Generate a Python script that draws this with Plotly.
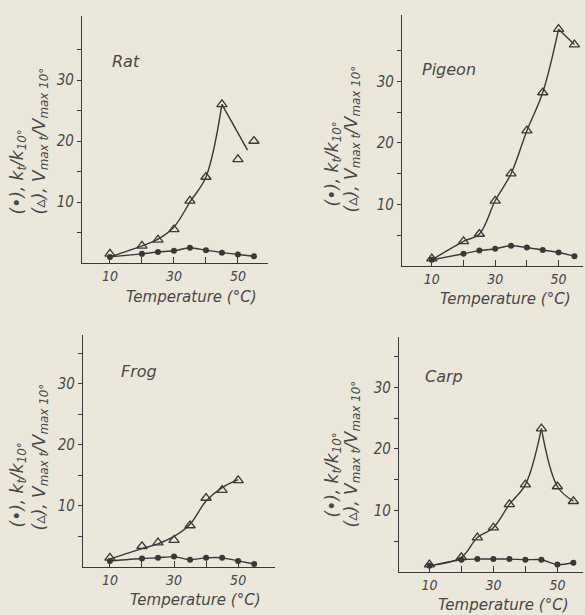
import plotly.graph_objects as go

# ---------------- data ----------------
temps = [10, 20, 25, 30, 35, 40, 45, 50, 55]

rat_k = [1.0, 1.5, 1.8, 2.0, 2.5, 2.1, 1.7, 1.4, 1.1]
rat_v = [1.5, 2.8, 3.8, 5.5, 10.2, 14.1, 26.0, 17.0, 20.0]
rat_fit_t = [10, 20, 25, 30, 35, 40, 45, 53]
rat_fit_v = [1.0, 2.8, 3.9, 5.9, 10.0, 14.1, 26.0, 18.5]

pig_k = [1.0, 2.0, 2.5, 2.8, 3.3, 3.0, 2.6, 2.2, 1.6]
pig_v = [1.2, 4.0, 5.2, 10.6, 15.0, 22.0, 28.2, 38.5, 36.0]
pig_fit_t = temps
pig_fit_v = [1.0, 4.0, 5.2, 10.6, 15.0, 22.0, 28.2, 38.5, 36.0]

frog_t = [10, 20, 25, 30, 35, 40, 45, 50]
frog_k = [1.0, 1.4, 1.5, 1.7, 1.2, 1.5, 1.5, 1.0, 0.5]
frog_v = [1.5, 3.4, 4.0, 4.4, 6.8, 11.3, 12.6, 14.2]
frog_fit_t = [10, 20, 25, 30, 35, 40, 45, 50]
frog_fit_v = [1.3, 3.0, 3.8, 5.0, 7.0, 10.8, 13.0, 14.3]

carp_k = [1.0, 2.0, 2.1, 2.1, 2.1, 2.0, 2.0, 1.2, 1.5]
carp_v = [1.2, 2.4, 5.6, 7.2, 11.0, 14.2, 23.3, 13.9, 11.5]
carp_fit_t = temps
carp_fit_v = [1.0, 2.4, 5.6, 7.2, 11.0, 14.2, 23.3, 13.9, 11.5]

x_tickvals = [10, 20, 30, 40, 50]
x_ticktext = ["10", "", "30", "", "50"]
y_tickvals = [5, 10, 15, 20, 25, 30, 35]
y_ticktext = ["", "10", "", "20", "", "30", ""]

# ---------------- style ----------------
W, H = 585, 615
BG = "#ece7db"
INK = "#383838"
TXT = "#474747"
FONT_C = "DejaVu Sans Condensed, DejaVu Sans, sans-serif"
FONT = "DejaVu Sans, sans-serif"

def px(x):
    return x / W

def py(y):
    return 1 - y / H

panels = [
    dict(name="Rat", k=rat_k, vt=temps, v=rat_v, ft=rat_fit_t, fv=rat_fit_v,
         xd=(82, 268), yd=(263, 16), xr=(1.25, 59.4), yr=(0, 40.5), npos=(15, 33),
         lab1=(18, 217), lab2=(40, 217), xt=(191, 297)),
    dict(name="Pigeon", k=pig_k, vt=temps, v=pig_v, ft=pig_fit_t, fv=pig_fit_v,
         xd=(402, 583), yd=(266, 15), xr=(0.6, 57.7), yr=(0, 40.8), npos=(15.5, 32),
         lab1=(333, 209), lab2=(352, 215), xt=(505, 299)),
    dict(name="Frog", k=frog_k, vt=frog_t, v=frog_v, ft=frog_fit_t, fv=frog_fit_v,
         xd=(83, 275), yd=(567, 335), xr=(1.6, 61.5), yr=(0, 38), npos=(19, 32),
         lab1=(18, 530), lab2=(40, 533), xt=(195, 600)),
    dict(name="Carp", k=carp_k, vt=temps, v=carp_v, ft=carp_fit_t, fv=carp_fit_v,
         xd=(399, 583), yd=(572, 337), xr=(0.5, 58), yr=(0, 38.2), npos=(14.5, 31.7),
         lab1=(333, 520), lab2=(352, 530), xt=(503, 605)),
]

fig = go.Figure()
annotations = []
layout_axes = {}

for i, p in enumerate(panels, start=1):
    xa = "x" if i == 1 else f"x{i}"
    ya = "y" if i == 1 else f"y{i}"
    xkey = "xaxis" if i == 1 else f"xaxis{i}"
    ykey = "yaxis" if i == 1 else f"yaxis{i}"

    # fitted Vmax curve, split at the peak so the cusp stays sharp
    fv = p["fv"]
    peak = fv.index(max(fv))
    segs = [(p["ft"][:peak + 1], fv[:peak + 1]), (p["ft"][peak:], fv[peak:])]
    for st, sv in segs:
        if len(st) > 1:
            fig.add_trace(go.Scatter(x=st, y=sv, mode="lines", xaxis=xa, yaxis=ya,
                                     line=dict(color=INK, width=1.4, shape="spline", smoothing=1.0),
                                     hoverinfo="skip", showlegend=False))
    # k curve
    fig.add_trace(go.Scatter(x=temps, y=p["k"], mode="lines+markers", xaxis=xa, yaxis=ya,
                             line=dict(color=INK, width=1.4, shape="spline", smoothing=0.8),
                             marker=dict(symbol="circle", size=6, color=INK),
                             showlegend=False))
    # Vmax points
    fig.add_trace(go.Scatter(x=p["vt"], y=p["v"], mode="markers", xaxis=xa, yaxis=ya,
                             marker=dict(symbol="triangle-up-open", size=9,
                                         line=dict(color=INK, width=1.3), color=INK),
                             showlegend=False))

    layout_axes[xkey] = dict(
        domain=[px(p["xd"][0]), px(p["xd"][1])], range=list(p["xr"]), anchor=ya,
        showline=True, linecolor=INK, linewidth=1.4, showgrid=False, zeroline=False,
        tickvals=x_tickvals, ticktext=x_ticktext, ticks="inside", ticklen=6,
        tickcolor=INK, tickwidth=1,
        tickfont=dict(family=FONT_C, size=14, color=TXT, style="italic"),
    )
    layout_axes[ykey] = dict(
        domain=[py(p["yd"][0]), py(p["yd"][1])], range=list(p["yr"]), anchor=xa,
        showline=True, linecolor=INK, linewidth=1.4, showgrid=False, zeroline=False,
        tickvals=y_tickvals, ticktext=y_ticktext, ticks="outside", ticklen=4,
        tickcolor=INK, tickwidth=1,
        tickfont=dict(family=FONT_C, size=15, color=TXT, style="italic"),
    )

    annotations.append(dict(text=p["name"], x=p["npos"][0], y=p["npos"][1], xref=xa, yref=ya,
                            showarrow=False, font=dict(family=FONT, size=16, color=TXT, style="italic")))
    annotations.append(dict(text="(•), k<sub>t</sub>/k<sub>10°</sub>", textangle=-90,
                            x=px(p["lab1"][0]), y=py(p["lab1"][1]), xref="paper", yref="paper",
                            xanchor="center", yanchor="bottom", showarrow=False,
                            font=dict(family=FONT, size=17, color=TXT, style="italic")))
    annotations.append(dict(text="(▵), V<sub>max t</sub>/V<sub>max 10°</sub>", textangle=-90,
                            x=px(p["lab2"][0]), y=py(p["lab2"][1]), xref="paper", yref="paper",
                            xanchor="center", yanchor="bottom", showarrow=False,
                            font=dict(family=FONT, size=17, color=TXT, style="italic")))
    annotations.append(dict(text="Temperature (°C)", x=px(p["xt"][0]), y=py(p["xt"][1]),
                            xref="paper", yref="paper", xanchor="center", yanchor="middle",
                            showarrow=False,
                            font=dict(family=FONT, size=15, color=TXT, style="italic")))

fig.update_layout(
    width=W, height=H, margin=dict(l=0, r=0, t=0, b=0),
    paper_bgcolor=BG, plot_bgcolor=BG, showlegend=False,
    annotations=annotations, **layout_axes,
)

fig.write_html("out.html")
